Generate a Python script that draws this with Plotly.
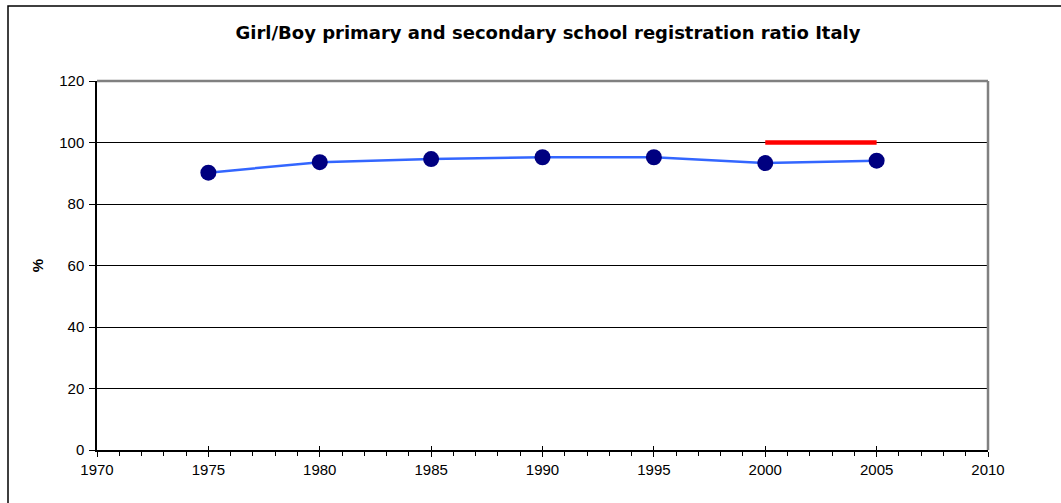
import plotly.graph_objects as go

# Girl/Boy registration ratio (%) for Italy
years = [1975, 1980, 1985, 1990, 1995, 2000, 2005]
ratio = [90.2, 93.6, 94.6, 95.2, 95.2, 93.3, 94.1]

# Parity target segment
target_years = [2000, 2005]
target_values = [100, 100]

x_ticks = [1970, 1975, 1980, 1985, 1990, 1995, 2000, 2005, 2010]
y_ticks = [0, 20, 40, 60, 80, 100, 120]

FONT = "Liberation Sans, Arial, sans-serif"
TITLE_FONT = "DejaVu Sans, Liberation Sans, Arial, sans-serif"

fig = go.Figure()

fig.add_trace(go.Scatter(
    x=years, y=ratio, mode="lines+markers",
    line=dict(color="#3366FF", width=2.5),
    marker=dict(color="#000080", size=16),
    showlegend=False, cliponaxis=False,
))

# target line drawn on the overlay x-axis (same range) so that axis is rendered
fig.add_trace(go.Scatter(
    x=target_years, y=target_values, mode="lines",
    line=dict(color="#FF0000", width=4.5),
    showlegend=False, cliponaxis=False, xaxis="x2",
))

# grey plot-area frame on top and right
fig.add_shape(type="line", xref="paper", yref="paper", x0=0, x1=1, y0=1, y1=1,
              line=dict(color="#808080", width=2.5), layer="above")
fig.add_shape(type="line", xref="paper", yref="paper", x0=1, x1=1, y0=0, y1=1,
              line=dict(color="#808080", width=2.5), layer="above")

# outer chart border (left and top edges fall inside the page)
fig.add_shape(type="rect", xref="paper", yref="paper",
              x0=(8 - 97) / 891, x1=(1120 - 97) / 891,
              y0=(450 - 560) / 369, y1=(450 - 6) / 369,
              line=dict(color="#000000", width=1.5), fillcolor="rgba(0,0,0,0)",
              layer="above")

fig.update_layout(
    width=1061, height=503,
    margin=dict(l=97, r=73, t=81, b=53),
    paper_bgcolor="white", plot_bgcolor="white",
    font=dict(family=FONT, size=15, color="#000000"),
    title=dict(
        text="<b>Girl/Boy primary and secondary school registration ratio Italy</b>",
        x=548 / 1061, xanchor="center", y=1 - 33 / 503, yanchor="middle",
        font=dict(family=TITLE_FONT, size=18, color="#000000"),
    ),
    xaxis=dict(
        range=[1970, 2010], tickvals=x_ticks, ticktext=[str(v) for v in x_ticks],
        showgrid=False, zeroline=False,
        showline=True, linecolor="#000000", linewidth=1.5,
        ticks="outside", ticklen=5, tickcolor="#000000", tickwidth=1,
        minor=dict(dtick=1, ticks="outside", ticklen=4, tickcolor="#000000", tickwidth=1, showgrid=False),
        tickfont=dict(family=FONT, size=15),
    ),
    xaxis2=dict(
        range=[1970, 2010], tickvals=x_ticks, overlaying="x", anchor="y", side="bottom",
        showticklabels=False, showgrid=False, zeroline=False, showline=False,
        ticks="inside", ticklen=4, tickcolor="#000000", tickwidth=1,
    ),
    yaxis=dict(
        range=[0, 120], tickvals=y_ticks,
        showgrid=True, gridcolor="#000000", gridwidth=1,
        zeroline=False,
        showline=True, linecolor="#000000", linewidth=1.5,
        ticks="outside", ticklen=6, tickcolor="#000000", tickwidth=1,
        ticklabelstandoff=2,
        tickfont=dict(family=FONT, size=15),
        title=dict(text="<b>%</b>", font=dict(family=FONT, size=15), standoff=12),
    ),
)

fig.write_html("out.html")
